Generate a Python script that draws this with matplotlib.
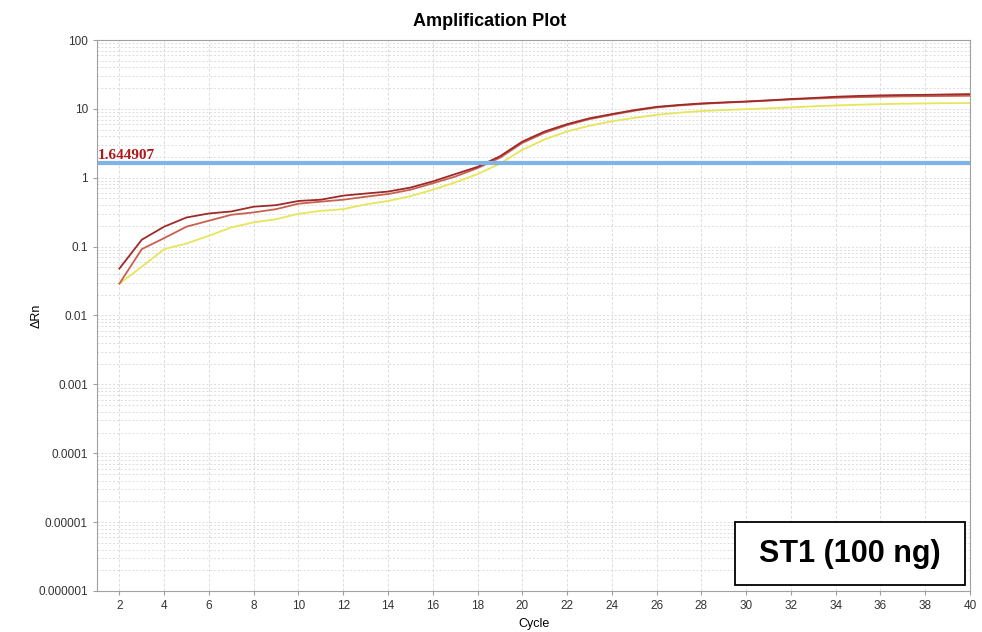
import numpy as np
import matplotlib.pyplot as plt
from matplotlib.patches import Rectangle
from matplotlib.ticker import LogLocator, NullFormatter

plt.rcParams["font.family"] = ["Liberation Sans", "DejaVu Sans"]

cycles = list(range(2, 41))

# delta Rn per cycle
well_a = [0.048, 0.126, 0.195, 0.265, 0.303, 0.324, 0.38, 0.40, 0.46, 0.48,
          0.55, 0.59, 0.63, 0.72, 0.885, 1.13, 1.44, 2.05, 3.35, 4.7,
          6.0, 7.3, 8.4, 9.6, 10.7, 11.4, 12.0, 12.4, 12.8, 13.3,
          13.9, 14.4, 15.0, 15.4, 15.7, 15.9, 16.0, 16.2, 16.4]
well_b = [0.029, 0.092, 0.133, 0.195, 0.238, 0.29, 0.314, 0.35, 0.42, 0.45,
          0.48, 0.53, 0.58, 0.67, 0.83, 1.04, 1.38, 1.95, 3.2, 4.5,
          5.8, 7.1, 8.2, 9.4, 10.5, 11.2, 11.8, 12.3, 12.7, 13.2,
          13.7, 14.1, 14.5, 14.8, 15.0, 15.2, 15.3, 15.4, 15.5]
well_c = [0.029, 0.051, 0.092, 0.111, 0.144, 0.19, 0.225, 0.25, 0.30, 0.33,
          0.35, 0.41, 0.46, 0.54, 0.67, 0.855, 1.13, 1.6, 2.55, 3.6,
          4.7, 5.7, 6.6, 7.4, 8.2, 8.8, 9.3, 9.6, 9.9, 10.2,
          10.5, 10.9, 11.2, 11.5, 11.7, 11.9, 12.0, 12.1, 12.1]
threshold = 1.644907

fig = plt.figure(figsize=(9.82, 6.32), dpi=100)
ax = fig.add_axes([0.0988, 0.0649, 0.8890, 0.8718])

ax.plot(cycles, well_c, color="#e6e65c", lw=1.3)
ax.plot(cycles, well_b, color="#c8604e", lw=1.3)
ax.plot(cycles, well_a, color="#9e2a2a", lw=1.3)
ax.axhline(threshold, color="#7fb4e6", lw=3)
ax.text(1.05, threshold * 1.02, f"{threshold:.6f}", color="#b01818", fontsize=11,
        fontweight="bold", family="Liberation Serif", va="bottom", ha="left")

ax.set_yscale("log")
ax.set_ylim(1e-6, 100)
ax.set_xlim(1, 40)
ax.set_xticks(range(2, 41, 2))
ax.set_yticks([1e-6, 1e-5, 1e-4, 1e-3, 1e-2, 1e-1, 1, 10, 100])
ax.set_yticklabels(["0.000001", "0.00001", "0.0001", "0.001", "0.01", "0.1", "1", "10", "100"])
ax.yaxis.set_minor_locator(LogLocator(base=10, subs=np.arange(2, 10)))
ax.yaxis.set_minor_formatter(NullFormatter())

ax.grid(True, axis="x", which="major", color="#dcdcdc", ls=(0, (3, 2)), lw=0.7)
ax.grid(True, axis="y", which="both", color="#dcdcdc", ls=(0, (2, 2)), lw=0.7)
ax.set_axisbelow(True)

for s in ax.spines.values():
    s.set_color("#a0a0a0")
ax.tick_params(axis="both", which="major", labelsize=8.5, colors="#a0a0a0",
               labelcolor="#333333", length=3)
ax.tick_params(axis="y", which="minor", length=0)

fig.text(0.499, 0.966, "Amplification Plot", fontsize=13, fontweight="bold",
         ha="center", va="center")
ax.set_xlabel("Cycle", fontsize=9, labelpad=4)
ax.set_ylabel("ΔRn", fontsize=9)
ax.yaxis.set_label_coords(-0.062, 0.5)

# sample label box
ax.add_patch(Rectangle((0.7308, 0.0109), 0.2635, 0.1143, transform=ax.transAxes,
                       fc="white", ec="black", lw=1.3, zorder=5))
ax.text(0.8625, 0.068, "ST1 (100 ng)", transform=ax.transAxes, fontsize=22,
        fontweight="bold", ha="center", va="center", zorder=6)

fig.savefig("out.png", dpi=100)
